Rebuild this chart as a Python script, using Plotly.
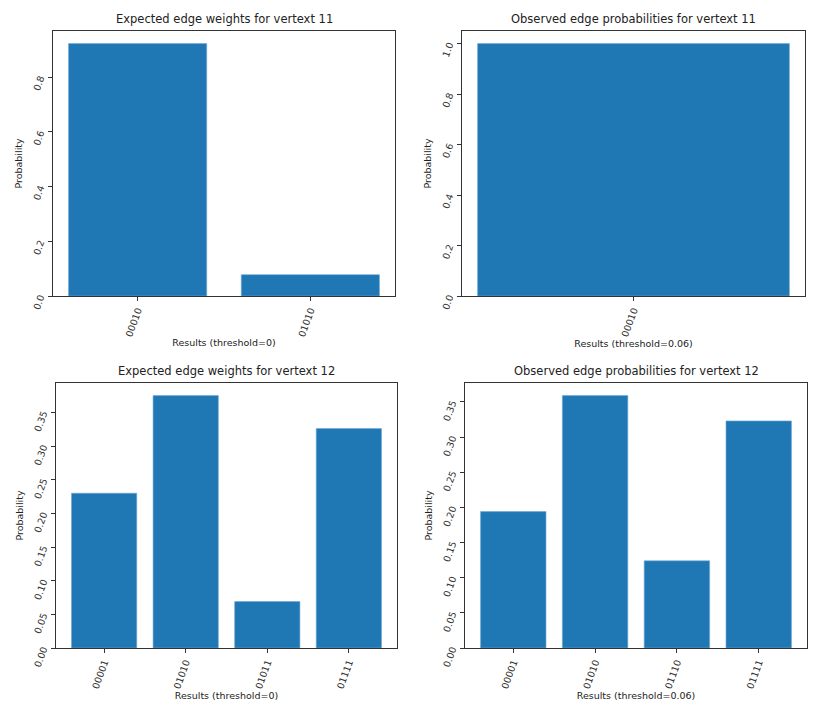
import plotly.graph_objects as go
from plotly.subplots import make_subplots

exp11_labels = ["00010", "01010"]
exp11_values = [0.922, 0.078]

obs11_labels = ["00010"]
obs11_values = [1.0]

exp12_labels = ["00001", "01010", "01011", "01111"]
exp12_values = [0.230, 0.375, 0.069, 0.326]

obs12_labels = ["00001", "01010", "01110", "01111"]
obs12_values = [0.194, 0.359, 0.124, 0.323]

titles = [
    "Expected edge weights for vertext 11",
    "Observed edge probabilities for vertext 11",
    "Expected edge weights for vertext 12",
    "Observed edge probabilities for vertext 12",
]
xtitles = ["Results (threshold=0)", "Results (threshold=0.06)",
           "Results (threshold=0)", "Results (threshold=0.06)"]

panels = [
    (exp11_labels, exp11_values, 1, 1),
    (obs11_labels, obs11_values, 1, 2),
    (exp12_labels, exp12_values, 2, 1),
    (obs12_labels, obs12_values, 2, 2),
]

# page body has an 8px margin, so the figure is drawn inside it
OFF = 8
W, H = 833 - 2 * OFF, 709 - 2 * OFF
BLUE = "#1f77b4"
FONT = "DejaVu Sans"

fig = make_subplots(rows=2, cols=2, subplot_titles=titles)

for labels, values, r, c in panels:
    fig.add_trace(go.Bar(x=labels, y=values, marker_color=BLUE,
                         marker_line=dict(color="#6fa8d6", width=0.6),
                         showlegend=False), row=r, col=c)

# axes boxes in page pixels (left, right, top, bottom)
boxes = [(53, 395, 31, 296), (462, 805, 31, 296),
         (56, 397, 383, 648), (465, 807, 383, 648)]
ytick_sets = [
    ([0, 0.2, 0.4, 0.6, 0.8], ["0.0", "0.2", "0.4", "0.6", "0.8"]),
    ([0, 0.2, 0.4, 0.6, 0.8, 1.0], ["0.0", "0.2", "0.4", "0.6", "0.8", "1.0"]),
    ([0, 0.05, 0.1, 0.15, 0.2, 0.25, 0.3, 0.35],
     ["0.00", "0.05", "0.10", "0.15", "0.20", "0.25", "0.30", "0.35"]),
    ([0, 0.05, 0.1, 0.15, 0.2, 0.25, 0.3, 0.35],
     ["0.00", "0.05", "0.10", "0.15", "0.20", "0.25", "0.30", "0.35"]),
]


def px(x):
    return (x - OFF) / W


def py(y):
    return 1 - (y - OFF) / H


for i, ((labels, values, r, c), box) in enumerate(zip(panels, boxes)):
    l, rgt, t, b = box
    n = len(labels)
    pad = 0.05 * (n - 1 + 0.8)
    ymax = max(values) * 1.05
    fig.update_xaxes(domain=[px(l), px(rgt)], range=[-0.4 - pad, n - 0.6 + pad],
                     automargin=False,
                     showline=True, linecolor="#333", linewidth=1, mirror=True,
                     ticks="outside", ticklen=4, tickcolor="#333",
                     tickangle=-70, tickfont=dict(family=FONT, size=9.5, color="#333"),
                     title=dict(text=xtitles[i], standoff=1,
                                font=dict(family=FONT, size=9.5, color="#222")),
                     showgrid=False, row=r, col=c)
    fig.update_yaxes(domain=[py(b), py(t)], range=[0, ymax],
                     automargin=False,
                     tickvals=ytick_sets[i][0], ticktext=ytick_sets[i][1],
                     showline=True, linecolor="#333", linewidth=1, mirror=True,
                     ticks="outside", ticklen=4, tickcolor="#333",
                     tickangle=-70, ticklabelstandoff=6,
                     tickfont=dict(family=FONT, size=9.5, color="#333"),
                     title=dict(text="Probability", standoff=6,
                                font=dict(family=FONT, size=9.5, color="#222")),
                     showgrid=False, zeroline=False, row=r, col=c)

# place subplot titles just above each box
for ann, box in zip(fig.layout.annotations, boxes):
    l, rgt, t, b = box
    ann.update(x=(px(l) + px(rgt)) / 2, y=py(t - 3), yanchor="bottom",
               font=dict(family=FONT, size=11.5, color="#222"))

fig.update_layout(width=W, height=H, bargap=0.2,
                  margin=dict(l=0, r=0, t=0, b=0),
                  plot_bgcolor="white", paper_bgcolor="white",
                  font=dict(family=FONT))

fig.write_html("out.html")
